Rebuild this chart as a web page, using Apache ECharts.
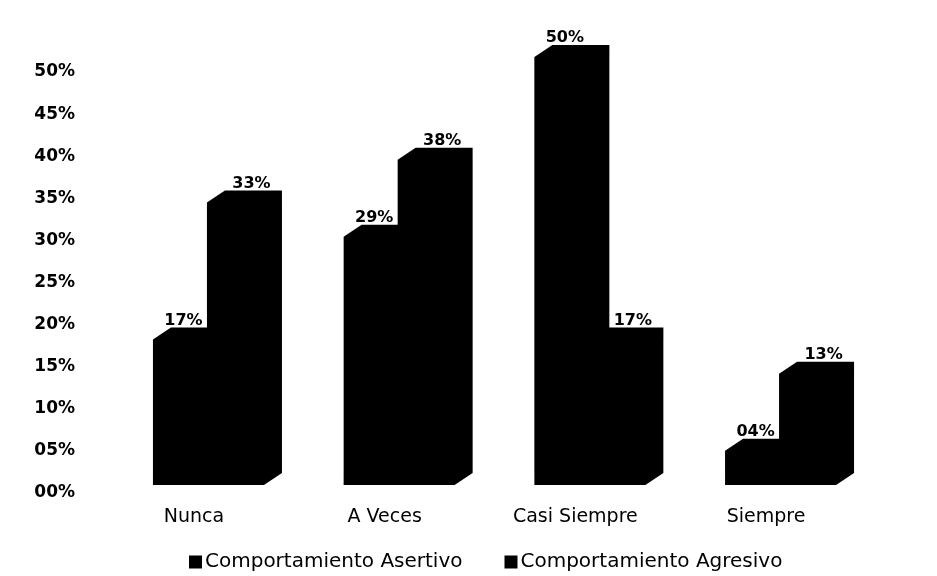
<!DOCTYPE html>
<html>
<head>
<meta charset="utf-8">
<script src="https://cdn.jsdelivr.net/npm/echarts@6/dist/echarts.min.js"></script>
<style>
  html, body { margin: 0; padding: 0; background: #fff; }
  #chart { width: 937px; height: 576px; }
</style>
</head>
<body>
<div id="chart"></div>
<script>
  // datos
  var categories = ['Nunca', 'A Veces', 'Casi Siempre', 'Siempre']
  var asertivo = [17, 29, 50, 4]
  var agresivo = [33, 38, 17, 13]
  var seriesNames = ['Comportamiento Asertivo', 'Comportamiento Agresivo']

  var pct = function (v) {
    return (v < 10 ? '0' : '') + v + '%'
  }

  // profundidad del efecto 3D
  var DX = 18
  var DY = -12
  var BAR_W = 57

  function renderBar (params, api) {
    var base = api.coord([api.value(0), 0])
    var top = api.coord([api.value(0), api.value(1)])
    var x0 = base[0] + (params.seriesIndex === 0 ? -41 : 13)
    var x1 = x0 + BAR_W
    var yb = base[1]
    var yt = top[1]
    var labelShift = params.seriesIndex === 0 ? 2 : 16
    return {
      type: 'group',
      children: [
        {
          type: 'polygon',
          shape: {
            points: [[x0, yb], [x0, yt], [x0 + DX, yt + DY], [x1 + DX, yt + DY], [x1 + DX, yb + DY], [x1, yb]]
          },
          style: { fill: '#000' }
        },
        {
          type: 'text',
          style: {
            text: pct(api.value(1)),
            x: (x0 + x1) / 2 + labelShift,
            y: yt + DY + 1,
            align: 'center',
            verticalAlign: 'bottom',
            fill: '#000',
            fontFamily: 'DejaVu Sans',
            fontWeight: 'bold',
            fontSize: 16
          }
        }
      ]
    }
  }

  var toData = function (arr) {
    return arr.map(function (v, i) { return [i, v] })
  }

  var chart = echarts.init(document.getElementById('chart'))
  chart.setOption({
    backgroundColor: '#fff',
    animation: false,
    grid: [
      { left: 98.6, right: 75.6, top: 57, bottom: 91 }, // barras
      { left: 84, right: 75.6, top: 72, bottom: 83 } // etiquetas eje Y
    ],
    legend: {
      left: 184,
      top: 547,
      icon: 'rect',
      itemWidth: 13,
      itemHeight: 13,
      itemGap: 42,
      data: seriesNames,
      textStyle: {
        color: '#000',
        fontFamily: 'DejaVu Sans',
        fontSize: 20,
        padding: [0, 0, 0, -2]
      }
    },
    xAxis: [
      {
        type: 'category',
        gridIndex: 0,
        data: categories,
        axisLine: { show: false },
        axisTick: { show: false },
        splitLine: { show: false },
        axisLabel: {
          margin: 23,
          color: '#000',
          fontFamily: 'DejaVu Sans',
          fontSize: 19
        }
      },
      { type: 'value', gridIndex: 1, show: false }
    ],
    yAxis: [
      { type: 'value', gridIndex: 0, min: 0, max: 50, show: false },
      {
        type: 'value',
        gridIndex: 1,
        min: 0,
        max: 50,
        interval: 5,
        axisLine: { show: false },
        axisTick: { show: false },
        splitLine: { show: false },
        axisLabel: {
          margin: 9,
          color: '#000',
          fontFamily: 'DejaVu Sans',
          fontWeight: 'bold',
          fontSize: 17,
          formatter: pct
        }
      }
    ],
    series: [
      {
        name: seriesNames[0],
        type: 'custom',
        xAxisIndex: 0,
        yAxisIndex: 0,
        itemStyle: { color: '#000' },
        encode: { x: 0, y: 1 },
        data: toData(asertivo),
        renderItem: renderBar
      },
      {
        name: seriesNames[1],
        type: 'custom',
        xAxisIndex: 0,
        yAxisIndex: 0,
        itemStyle: { color: '#000' },
        encode: { x: 0, y: 1 },
        data: toData(agresivo),
        renderItem: renderBar
      }
    ]
  })
</script>
</body>
</html>
